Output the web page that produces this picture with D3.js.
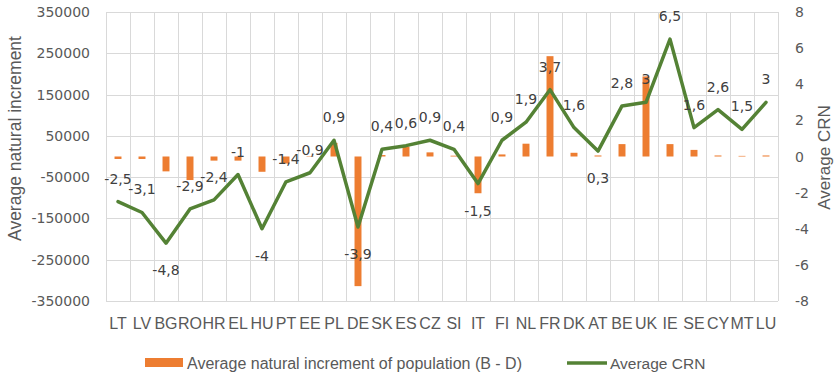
<!DOCTYPE html>
<html>
<head>
<meta charset="utf-8">
<script src="https://cdn.jsdelivr.net/npm/d3@7"></script>
<style>
  html, body { margin: 0; padding: 0; background: #ffffff; }
  svg { display: block; }
</style>
</head>
<body>
<svg id="chart" width="835" height="376"></svg>
<script>
// Countries along the horizontal axis
const categories = ["LT", "LV", "BG", "RO", "HR", "EL", "HU", "PT", "EE", "PL", "DE", "SK", "ES", "CZ",
  "SI", "IT", "FI", "NL", "FR", "DK", "AT", "BE", "UK", "IE", "SE", "CY", "MT", "LU"];

// Average natural increment of population (births minus deaths), left axis
const naturalIncrement = [-6000, -6000, -36000, -57000, -10000, -10000, -37000, -17000, -1000, 33000,
  -314000, 3500, 24000, 10000, 2000, -89000, 5000, 31000, 243000, 9000, 2500, 30000, 194000, 30000,
  16000, 2500, 1500, 2500];

// Average crude rate of natural change, right axis
const crn = [-2.5, -3.1, -4.8, -2.9, -2.4, -1, -4, -1.4, -0.9, 0.9, -3.9, 0.4, 0.6, 0.9, 0.4, -1.5,
  0.9, 1.9, 3.7, 1.6, 0.3, 2.8, 3, 6.5, 1.6, 2.6, 1.5, 3];

// Axis ticks
const leftTicks = [-350000, -250000, -150000, -50000, 50000, 150000, 250000, 350000];
const rightTicks = [-8, -6, -4, -2, 0, 2, 4, 6, 8];

// Countries whose CRN label sits under the line
const labelBelow = ["BG", "HU", "DE", "IT", "AT"];

const seriesNames = ["Average natural increment of population (B - D)", "Average CRN"];

const svg = d3.select("#chart");
const plot = { left: 106, right: 778, top: 12, bottom: 301 };

const loc = d3.formatLocale({ decimal: ",", thousands: "", grouping: [3], currency: ["", ""], minus: "-" });
const fmtInt = loc.format("d");
const fmtDec = loc.format(".2~g");

const x = d3.scaleBand().domain(categories).range([plot.left, plot.right]).padding(0);
const yL = d3.scaleLinear().domain([-350000, 350000]).range([plot.bottom, plot.top]);
const yR = d3.scaleLinear().domain([-8, 8]).range([plot.bottom, plot.top]);

const gridColor = "#d9d9d9";
const textColor = "#595959";
const orange = "#ed7d31";
const green = "#548235";
const numFont = "'DejaVu Sans', sans-serif";
const narrowFont = "'Liberation Sans Narrow', 'Liberation Sans', Arial, sans-serif";
const sansFont = "'Liberation Sans', Arial, sans-serif";

// Horizontal gridlines (left axis ticks)
svg.append("g")
  .selectAll("line")
  .data(leftTicks)
  .join("line")
  .attr("x1", plot.left).attr("x2", plot.right)
  .attr("y1", d => Math.round(yL(d)) + 0.5).attr("y2", d => Math.round(yL(d)) + 0.5)
  .attr("stroke", gridColor).attr("stroke-width", 1);

// Vertical gridlines on category boundaries
const bounds = categories.map(c => x(c)).concat([plot.right]);
svg.append("g")
  .selectAll("line")
  .data(bounds)
  .join("line")
  .attr("x1", d => Math.round(d) + 0.5).attr("x2", d => Math.round(d) + 0.5)
  .attr("y1", plot.top).attr("y2", plot.bottom)
  .attr("stroke", gridColor).attr("stroke-width", 1);

// Bars
const barW = x.bandwidth() * 0.29;
svg.append("g")
  .selectAll("rect")
  .data(categories)
  .join("rect")
  .attr("x", (c) => x(c) + (x.bandwidth() - barW) / 2)
  .attr("width", barW)
  .attr("y", (c, i) => Math.min(yL(0), yL(naturalIncrement[i])))
  .attr("height", (c, i) => Math.abs(yL(naturalIncrement[i]) - yL(0)))
  .attr("fill", orange);

// CRN line
const line = d3.line()
  .x((d, i) => x(categories[i]) + x.bandwidth() / 2)
  .y(d => yR(d));
svg.append("path")
  .datum(crn)
  .attr("d", line)
  .attr("fill", "none")
  .attr("stroke", green)
  .attr("stroke-width", 3.5)
  .attr("stroke-linejoin", "round")
  .attr("stroke-linecap", "round");

// CRN data labels
svg.append("g")
  .selectAll("text")
  .data(crn)
  .join("text")
  .attr("x", (d, i) => x(categories[i]) + x.bandwidth() / 2)
  .attr("y", (d, i) => labelBelow.includes(categories[i]) ? yR(d) + 32 : yR(d) - 18)
  .attr("text-anchor", "middle")
  .attr("font-family", numFont)
  .attr("font-size", 14)
  .attr("fill", "#404040")
  .text(d => fmtDec(d));

// Left axis tick labels
svg.append("g")
  .selectAll("text")
  .data(leftTicks)
  .join("text")
  .attr("x", 90)
  .attr("y", d => yL(d) + 5)
  .attr("text-anchor", "end")
  .attr("font-family", numFont)
  .attr("font-size", 14)
  .attr("fill", textColor)
  .text(d => fmtInt(d));

// Right axis tick labels
svg.append("g")
  .selectAll("text")
  .data(rightTicks)
  .join("text")
  .attr("x", 795)
  .attr("y", d => yR(d) + 5)
  .attr("text-anchor", "start")
  .attr("font-family", numFont)
  .attr("font-size", 14)
  .attr("fill", textColor)
  .text(d => fmtInt(d));

// Category labels
svg.append("g")
  .selectAll("text")
  .data(categories)
  .join("text")
  .attr("x", c => x(c) + x.bandwidth() / 2)
  .attr("y", 328.5)
  .attr("text-anchor", "middle")
  .attr("font-family", narrowFont)
  .attr("font-size", 16)
  .attr("fill", textColor)
  .text(c => c);

// Axis titles
svg.append("text")
  .attr("transform", "translate(21, 138.5) rotate(-90)")
  .attr("text-anchor", "middle")
  .attr("font-family", sansFont)
  .attr("font-size", 17.5)
  .attr("fill", textColor)
  .text("Average natural increment");

svg.append("text")
  .attr("transform", "translate(830, 157.5) rotate(-90)")
  .attr("text-anchor", "middle")
  .attr("font-family", sansFont)
  .attr("font-size", 17)
  .attr("fill", textColor)
  .text("Average CRN");

// Legend
const legend = svg.append("g");
legend.append("rect")
  .attr("x", 145).attr("y", 358).attr("width", 38).attr("height", 9)
  .attr("fill", orange);
legend.append("text")
  .attr("x", 187).attr("y", 368.5)
  .attr("font-family", sansFont)
  .attr("font-size", 16)
  .attr("fill", textColor)
  .text(seriesNames[0]);
legend.append("line")
  .attr("x1", 567).attr("x2", 607).attr("y1", 363).attr("y2", 363)
  .attr("stroke", green).attr("stroke-width", 3.5);
legend.append("text")
  .attr("x", 610).attr("y", 368.5)
  .attr("font-family", sansFont)
  .attr("font-size", 15.5)
  .attr("fill", textColor)
  .text(seriesNames[1]);
</script>
</body>
</html>
